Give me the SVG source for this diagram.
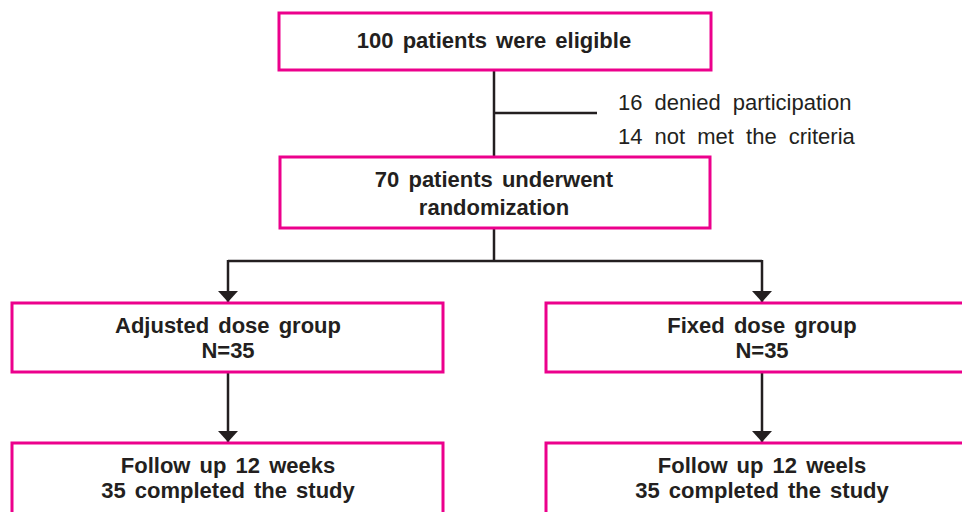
<svg xmlns="http://www.w3.org/2000/svg" width="962" height="512" viewBox="0 0 962 512">
<style>
.box{fill:#fff;stroke:#EC008C;stroke-width:3}
.t{font-family:"Liberation Sans",Arial,sans-serif;font-size:22px;font-weight:bold;fill:#231F20;text-anchor:middle;word-spacing:3px}
.n{font-family:"Liberation Sans",Arial,sans-serif;font-size:22px;fill:#231F20;word-spacing:6px}
.c{fill:none;stroke:#231F20;stroke-width:2.5}
</style>
<defs>
<marker id="ah" markerWidth="11" markerHeight="20" refX="11" refY="10" orient="auto" markerUnits="userSpaceOnUse">
<path d="M0,0 L11,10 L0,20 Z" fill="#231F20"/>
</marker>
</defs>
<rect width="962" height="512" fill="#fff"/>
<g id="connectors">
<path class="c" d="M494,70 V157"/>
<path class="c" d="M494,113 H597"/>
<path class="c" d="M494,228 V261"/>
<path class="c" d="M228,261 H762"/>
<path class="c" d="M228,260 V302" marker-end="url(#ah)"/>
<path class="c" d="M762,260 V302" marker-end="url(#ah)"/>
<path class="c" d="M228,372 V442" marker-end="url(#ah)"/>
<path class="c" d="M762,372 V442" marker-end="url(#ah)"/>
</g>
<g id="eligible">
<rect class="box" x="279" y="13" width="432" height="57"/>
<text class="t" x="494" y="48">100 patients were eligible</text>
</g>
<g id="excluded">
<text class="n" x="618" y="110">16 denied participation</text>
<text class="n" x="618" y="144">14 not met the criteria</text>
</g>
<g id="randomized">
<rect class="box" x="280" y="157" width="430" height="71"/>
<text class="t" x="494" y="187">70 patients underwent</text>
<text class="t" x="494" y="215">randomization</text>
</g>
<g id="adjusted">
<rect class="box" x="12" y="303" width="431" height="69"/>
<text class="t" x="228" y="333">Adjusted dose group</text>
<text class="t" x="228" y="358">N=35</text>
</g>
<g id="fixed">
<rect class="box" x="546" y="303" width="431" height="69"/>
<text class="t" x="762" y="333">Fixed dose group</text>
<text class="t" x="762" y="358">N=35</text>
</g>
<g id="followup-adjusted">
<rect class="box" x="12" y="443" width="431" height="80"/>
<text class="t" x="228" y="473">Follow up 12 weeks</text>
<text class="t" x="228" y="498">35 completed the study</text>
</g>
<g id="followup-fixed">
<rect class="box" x="546" y="443" width="431" height="80"/>
<text class="t" x="762" y="473">Follow up 12 weels</text>
<text class="t" x="762" y="498">35 completed the study</text>
</g>
</svg>
